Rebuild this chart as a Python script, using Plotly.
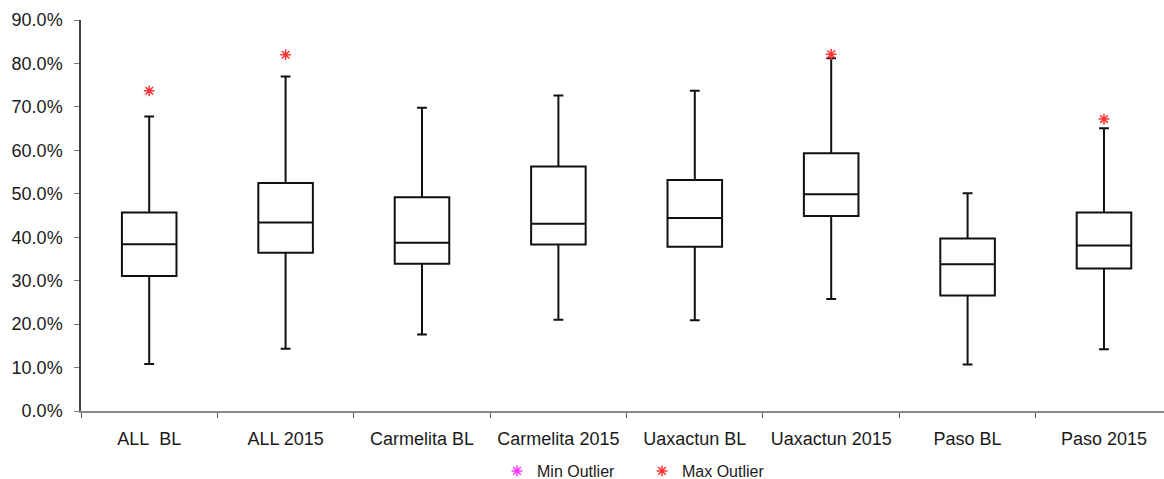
import plotly.graph_objects as go

categories = ["ALL\u00a0 BL", "ALL 2015", "Carmelita BL", "Carmelita 2015",
              "Uaxactun BL", "Uaxactun 2015", "Paso BL", "Paso 2015"]
whisker_low = [0.108, 0.143, 0.176, 0.210, 0.209, 0.258, 0.107, 0.142]
q1          = [0.311, 0.364, 0.339, 0.383, 0.378, 0.449, 0.266, 0.328]
median      = [0.384, 0.434, 0.387, 0.431, 0.444, 0.499, 0.338, 0.381]
q3          = [0.457, 0.525, 0.492, 0.563, 0.532, 0.593, 0.397, 0.457]
whisker_high = [0.678, 0.770, 0.698, 0.726, 0.737, 0.812, 0.501, 0.651]
max_outlier_cats = ["ALL\u00a0 BL", "ALL 2015", "Uaxactun 2015", "Paso 2015"]
max_outlier_vals = [0.737, 0.820, 0.821, 0.672]
yticks = [0.0, 0.1, 0.2, 0.3, 0.4, 0.5, 0.6, 0.7, 0.8, 0.9]

fig = go.Figure()
fig.add_trace(go.Box(
    x=categories, q1=q1, median=median, q3=q3,
    lowerfence=whisker_low, upperfence=whisker_high,
    width=0.4, whiskerwidth=0.18,
    fillcolor="rgba(0,0,0,0)",
    line=dict(color="#111111", width=2),
    boxpoints=False, showlegend=False, hoverinfo="skip",
))
fig.add_trace(go.Scatter(
    x=[None], y=[None], mode="markers", name="Min Outlier",
    marker=dict(symbol="asterisk-open", size=9, color="#FF33FF",
                line=dict(color="#FF33FF", width=1.5)),
))
fig.add_trace(go.Scatter(
    x=max_outlier_cats, y=max_outlier_vals, mode="markers", name="Max Outlier",
    marker=dict(symbol="asterisk-open", size=9, color="#FF3333",
                line=dict(color="#FF3333", width=1.5)),
))

font_family = "Liberation Sans, Arial, sans-serif"
fig.update_layout(
    width=1164, height=479,
    margin=dict(l=81, r=0, t=20, b=68, autoexpand=False),
    paper_bgcolor="white", plot_bgcolor="white",
    font=dict(family=font_family, size=18, color="#1a1a1a"),
    showlegend=True,
    legend=dict(orientation="h", x=497 / 1164, xanchor="left",
                y=1 - 471 / 479, yanchor="middle", yref="container", xref="container",
                font=dict(size=16), entrywidth=100, entrywidthmode="pixels",
                itemwidth=30, tracegroupgap=0),
    xaxis=dict(
        type="category", categoryorder="array", categoryarray=categories,
        range=[-0.5, 7.44],
        showline=True, linecolor="#888888", linewidth=2,
        ticks="outside", tickson="boundaries", ticklen=5, tickcolor="#555555",
        showgrid=False, zeroline=False, tickfont=dict(size=18),
        ticklabelstandoff=10,
    ),
    yaxis=dict(
        range=[0, 0.9], tickvals=yticks, tickformat=".1%",
        showline=True, linecolor="#444444", linewidth=1.5,
        ticks="outside", ticklen=5, tickcolor="#777777",
        showgrid=False, zeroline=False, tickfont=dict(size=18),
        ticklabelstandoff=8,
    ),
)

fig.write_html("out.html")
